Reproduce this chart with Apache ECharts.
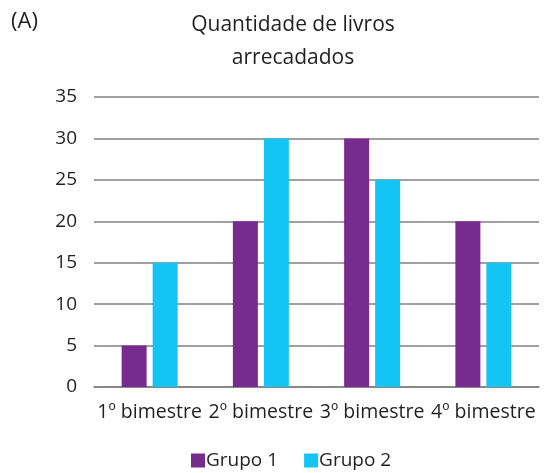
<!DOCTYPE html>
<html>
<head>
<meta charset="utf-8">
<script src="https://cdn.jsdelivr.net/npm/echarts@6/dist/echarts.min.js"></script>
<style>
  html, body { margin: 0; padding: 0; background: #fff; }
  #chart { width: 545px; height: 473px; }
</style>
</head>
<body>
<div id="chart"></div>
<script>
const categories = ['1º bimestre', '2º bimestre', '3º bimestre', '4º bimestre']
const grupo1 = [5, 20, 30, 20]
const grupo2 = [15, 30, 25, 15]
const seriesNames = ['Grupo 1', 'Grupo 2']

const textColor = '#231f20'
const chart = echarts.init(document.getElementById('chart'))
const option = {
  animation: false,
  textStyle: { fontFamily: 'Open Sans', color: textColor },
  title: [
    {
      text: 'Quantidade de livros\narrecadados',
      left: 288,
      top: 4,
      textAlign: 'center',
      textStyle: { fontSize: 21, fontWeight: 'normal', color: textColor, lineHeight: 33, fontFamily: 'Open Sans' }
    },
    {
      text: '(A)',
      left: 6,
      top: 6,
      textStyle: { fontSize: 22, fontWeight: 'normal', color: textColor, fontFamily: 'Open Sans' }
    }
  ],
  grid: { left: 94, right: 6, top: 97, bottom: 86 },
  legend: {
    data: seriesNames,
    bottom: -2,
    left: 186,
    icon: 'rect',
    itemWidth: 14,
    itemHeight: 14,
    itemGap: 26,
    textStyle: { fontSize: 19, color: textColor, padding: [0, 0, 0, -4] }
  },
  xAxis: {
    type: 'category',
    data: categories,
    axisLine: { show: true, lineStyle: { color: '#808080', width: 1.5 } },
    axisTick: { show: false },
    axisLabel: { fontSize: 19.5, color: textColor, margin: 15, interval: 0 }
  },
  yAxis: {
    type: 'value',
    min: 0,
    max: 35,
    interval: 5,
    axisLine: { show: false },
    axisTick: { show: false },
    axisLabel: { fontSize: 19, color: textColor, margin: 17 },
    splitLine: { lineStyle: { color: '#808080', width: 1.5 } }
  },
  series: [
    {
      name: seriesNames[0],
      type: 'bar',
      data: grupo1,
      barWidth: 25,
      barGap: '24%',
      itemStyle: { color: '#782b8f' }
    },
    {
      name: seriesNames[1],
      type: 'bar',
      data: grupo2,
      barWidth: 25,
      itemStyle: { color: '#14c4f3' }
    }
  ]
}
chart.setOption(option)
</script>
</body>
</html>
